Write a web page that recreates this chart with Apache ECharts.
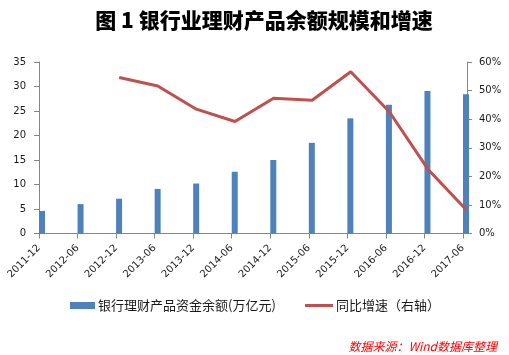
<!DOCTYPE html>
<html>
<head>
<meta charset="utf-8">
<script src="https://cdn.jsdelivr.net/npm/echarts@6/dist/echarts.min.js"></script>
<style>html,body{margin:0;padding:0;background:#fff;}#c{width:509px;height:355px;}</style>
</head>
<body>
<div id="c"></div>
<script>
var categories = ['2011-12','2012-06','2012-12','2013-06','2013-12','2014-06','2014-12','2015-06','2015-12','2016-06','2016-12','2017-06'];
var balance = [4.6, 6.0, 7.1, 9.1, 10.2, 12.6, 15.0, 18.5, 23.5, 26.3, 29.1, 28.4];
var growth = [null, null, 54.6, 51.6, 43.5, 39.2, 47.3, 46.6, 56.6, 42.6, 22.5, 8.2];
var leftTicks = {min: 0, max: 35, interval: 5};
var rightTicks = {min: 0, max: 60, interval: 10};
var titleText = '图 1 银行业理财产品余额规模和增速';
var barName = '银行理财产品资金余额(万亿元)';
var lineName = '同比增速（右轴）';
var sourceText = '数据来源：Wind数据库整理';

var chart = echarts.init(document.getElementById('c'), null, {renderer: 'canvas'});
var axisGray = '#868686';
var labelFont = {fontFamily: 'DejaVu Sans', fontSize: 10, color: '#1a1a1a'};
var gTop = 62, gBottom = 355 - 233.5;
var option = {
  animation: false,
  backgroundColor: '#fff',
  grid: [
    {left: 39, right: 509 - 463, top: gTop, bottom: gBottom},
    {left: 42, right: 509 - 466.5, top: gTop, bottom: gBottom},
    {left: 39, right: 509 - 467, top: gTop, bottom: gBottom}
  ],
  xAxis: [
    {type: 'category', gridIndex: 0, data: categories, boundaryGap: false,
     axisLine: {show: true, lineStyle: {color: axisGray, width: 1}},
     axisTick: {show: true, length: 5, inside: false, lineStyle: {color: axisGray}},
     axisLabel: Object.assign({rotate: 45, interval: 0, margin: 13}, labelFont),
     splitLine: {show: false}},
    {type: 'category', gridIndex: 1, data: categories, boundaryGap: false,
     axisLine: {show: false}, axisTick: {show: false}, axisLabel: {show: false}, splitLine: {show: false}},
    {type: 'category', gridIndex: 2, data: categories, boundaryGap: false,
     axisLine: {show: true, lineStyle: {color: axisGray, width: 1}},
     axisTick: {show: false}, axisLabel: {show: false}, splitLine: {show: false}}
  ],
  yAxis: [
    {type: 'value', gridIndex: 0, position: 'left', min: leftTicks.min, max: leftTicks.max, interval: leftTicks.interval,
     axisLine: {show: true, lineStyle: {color: axisGray}},
     axisTick: {show: true, length: 5, lineStyle: {color: axisGray}},
     axisLabel: Object.assign({margin: 13}, labelFont),
     splitLine: {show: false}},
    {type: 'value', gridIndex: 0, position: 'right', offset: 4, min: rightTicks.min, max: rightTicks.max, interval: rightTicks.interval,
     axisLine: {show: true, lineStyle: {color: axisGray}},
     axisTick: {show: true, length: 5, lineStyle: {color: axisGray}},
     axisLabel: Object.assign({margin: 12, formatter: '{value}%'}, labelFont),
     splitLine: {show: false}},
    {type: 'value', gridIndex: 1, min: rightTicks.min, max: rightTicks.max,
     axisLine: {show: false}, axisTick: {show: false}, axisLabel: {show: false}, splitLine: {show: false}},
    {type: 'value', gridIndex: 2, min: rightTicks.min, max: rightTicks.max,
     axisLine: {show: false}, axisTick: {show: false}, axisLabel: {show: false}, splitLine: {show: false}}
  ],
  legend: [
    {data: [barName], left: 70, top: 299, padding: 0, itemWidth: 25, itemHeight: 7, itemGap: 10,
     icon: 'rect',
     textStyle: {fontFamily: 'Noto Sans CJK SC', fontSize: 13, color: '#1a1a1a', padding: [0, 0, 0, -2]}},
    {data: [lineName], left: 305, top: 299, padding: 0, itemWidth: 28, itemHeight: 3,
     icon: 'rect',
     textStyle: {fontFamily: 'Noto Sans CJK SC', fontSize: 13, color: '#1a1a1a', padding: [0, 0, 0, -2]}}
  ],
  graphic: [
    {type: 'text', x: 264, y: 20,
     style: {text: titleText, align: 'center', verticalAlign: 'middle', fontFamily: 'Noto Sans CJK SC', fontSize: 21, fontWeight: 900, fill: '#000'}},
    {type: 'text', x: 497, y: 346,
     style: {text: sourceText, align: 'right', verticalAlign: 'middle', fontFamily: 'Noto Sans CJK SC', fontSize: 12, fontStyle: 'italic', fill: '#FF0000'}}
  ],
  series: [
    {name: '_pad', type: 'bar', xAxisIndex: 0, yAxisIndex: 0, barWidth: 6, barGap: '0%',
     data: balance.map(function(){ return null; }), silent: true},
    {name: barName, type: 'bar', xAxisIndex: 0, yAxisIndex: 0, barWidth: 6, barGap: '0%',
     itemStyle: {color: '#4F81BD'}, data: balance},
    {name: lineName, type: 'line', xAxisIndex: 1, yAxisIndex: 2, symbol: 'none', connectNulls: false,
     lineStyle: {color: '#C0504D', width: 3}, itemStyle: {color: '#C0504D'}, data: growth}
  ]
};
chart.setOption(option);
</script>
</body>
</html>
